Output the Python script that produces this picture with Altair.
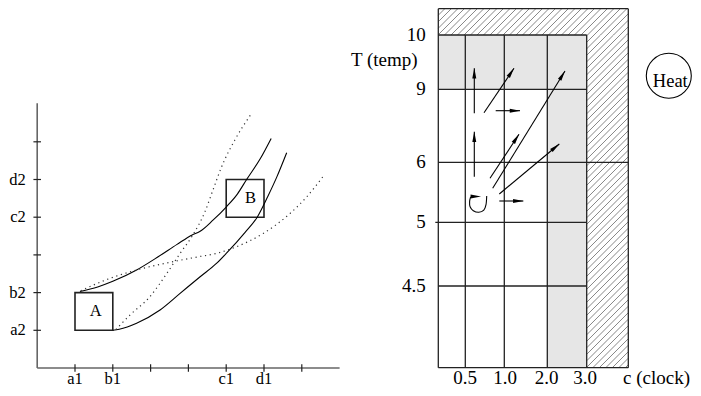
import math
import altair as alt
import pandas as pd

# ---------------- Left diagram (tick units) ----------------
xtick_pos = [1, 2, 3, 4, 5, 6, 7]
ytick_pos = [1, 2, 3, 4, 5, 6]
xlab_pos = [1, 2, 5, 6]
xlab_text = ["a1", "b1", "c1", "d1"]
ylab_pos = [1, 2, 4, 5]
ylab_text = ["a2", "b2", "c2", "d2"]
axis_x_end = 8.0
axis_y_end = 7.02

box_names = ["A", "B"]
box_x1 = [1, 5]
box_x2 = [2, 6]
box_y1 = [1, 4]
box_y2 = [2, 5]
box_lx = [1.55, 5.64]
box_ly = [1.5, 4.52]

upper_x = [1.13, 1.6, 2.0, 2.63, 3.2, 3.7, 4.1, 4.3, 4.65, 5.0, 5.3, 5.54, 5.9, 6.19]
upper_y = [2.03, 2.15, 2.3, 2.6, 2.95, 3.28, 3.53, 3.62, 3.92, 4.27, 4.62, 5.0, 5.55, 6.09]
lower_x = [2.0, 2.17, 2.63, 3.25, 3.78, 4.31, 4.75, 5.02, 5.5, 5.82, 6.1, 6.34, 6.6]
lower_y = [1.0, 1.03, 1.19, 1.54, 1.98, 2.42, 2.78, 3.06, 3.6, 4.0, 4.55, 5.07, 5.71]
dotA_x = [1.15, 1.93, 2.63, 3.5, 4.26, 4.75, 5.23, 5.98, 6.69, 7.13, 7.57]
dotA_y = [2.05, 2.38, 2.6, 2.8, 2.95, 3.04, 3.2, 3.57, 4.1, 4.54, 5.09]
dotB_x = [2.08, 2.46, 2.98, 3.43, 3.78, 4.1, 4.44, 4.66, 4.88, 5.23, 5.67]
dotB_y = [1.02, 1.41, 1.89, 2.51, 3.04, 3.5, 4.15, 4.75, 5.34, 6.05, 6.75]

# ---------------- Right diagram (grid units) ----------------
col_edges = [0, 27, 66, 109, 148.4, 190]      # left, 0.5, 1.0, 2.0, 3.0, outer right
v_45, v_5, v_6, v_9, v_10, v_top = 81.7, 145.4, 205.4, 278.4, 332.7, 359.0
temp_labels = ["10", "9", "6", "5", "4.5"]
temp_pos = [v_10, v_9, v_6, v_5, v_45]
clock_labels = ["0.5", "1.0", "2.0", "3.0"]
clock_pos = [26.7, 66.7, 108.4, 146.7]

arrow_u0 = [36, 45.7, 57.4, 36, 51.7, 54.4, 61, 61]
arrow_v0 = [254.4, 255, 257, 191, 189.4, 179.4, 173.7, 166.7]
arrow_u1 = [36, 75.7, 81.7, 36, 80.7, 126.7, 121, 85]
arrow_v1 = [299.4, 299.4, 257, 236, 233.4, 296.7, 223.7, 166.7]

loop_u = [48.4, 47.7, 45.5, 40.5, 35.0, 31.8, 31.3, 32.3]
loop_v = [171.7, 163.0, 157.5, 155.4, 157.0, 161.0, 166.0, 170.8]
loop_head = (37.5, 171.2, 90.0)

heat_u, heat_v = 230.5, 291.9

FONT = "Liberation Serif"
W, H = 685, 380

lx_dom = [(8 - 37.2) / 37.8, (8 + W - 37.2) / 37.8]
ly_dom = [(368 - (8 + H)) / 37.7, (368 - 8) / 37.7]
rx_dom = [8 - 438.3, 8 + W - 438.3]
ry_dom = [367.7 - (8 + H), 367.7 - 8]


def enc(dom_x, dom_y):
    sx = alt.Scale(domain=dom_x, nice=False, zero=False)
    sy = alt.Scale(domain=dom_y, nice=False, zero=False)
    return sx, sy


LSX, LSY = enc(lx_dom, ly_dom)
RSX, RSY = enc(rx_dom, ry_dom)


def seg_layer(df, sx, sy, color="black", width=1.0, dash=None):
    kw = dict(color=color, strokeWidth=width)
    if dash:
        kw["strokeDash"] = dash
    return alt.Chart(df).mark_rule(**kw).encode(
        x=alt.X("x0:Q", scale=sx, axis=None),
        y=alt.Y("y0:Q", scale=sy, axis=None),
        x2="x1:Q",
        y2="y1:Q",
    )


def text_layer(df, sx, sy, size, align="center", baseline="middle"):
    return alt.Chart(df).mark_text(font=FONT, fontSize=size, align=align,
                                   baseline=baseline, color="black").encode(
        x=alt.X("x:Q", scale=sx, axis=None),
        y=alt.Y("y:Q", scale=sy, axis=None),
        text="t:N",
    )


# ---- left layers
axes_df = pd.DataFrame({"x0": [0, 0], "y0": [0, 0], "x1": [axis_x_end, 0], "y1": [0, axis_y_end]})
tk = 0.1
xt_df = pd.DataFrame({"x0": xtick_pos, "x1": xtick_pos,
                      "y0": [-tk] * len(xtick_pos), "y1": [tk] * len(xtick_pos)})
yt_df = pd.DataFrame({"y0": ytick_pos, "y1": ytick_pos,
                      "x0": [-tk] * len(ytick_pos), "x1": [tk] * len(ytick_pos)})
xl_df = pd.DataFrame({"x": xlab_pos, "y": [-0.424] * 4, "t": xlab_text})
yl_df = pd.DataFrame({"x": [-0.3] * 4, "y": ylab_pos, "t": ylab_text})
box_df = pd.DataFrame({"x0": box_x1, "x1": box_x2, "y0": box_y1, "y1": box_y2})
boxl_df = pd.DataFrame({"x": box_lx, "y": box_ly, "t": box_names})


def curves_df(curves):
    rows = []
    for name, xs, ys in curves:
        for i, (a, b) in enumerate(zip(xs, ys)):
            rows.append({"x": a, "y": b, "c": name, "o": i})
    return pd.DataFrame(rows)


solid_df = curves_df([("upper", upper_x, upper_y), ("lower", lower_x, lower_y)])
dotted_df = curves_df([("dA", dotA_x, dotA_y), ("dB", dotB_x, dotB_y)])

left = alt.layer(
    seg_layer(axes_df, LSX, LSY, color="#666", width=1.6),
    seg_layer(xt_df, LSX, LSY, color="#222", width=1.2),
    seg_layer(yt_df, LSX, LSY, color="#222", width=1.2),
    text_layer(xl_df, LSX, LSY, 16.5, baseline="alphabetic"),
    text_layer(yl_df, LSX, LSY, 16.5, align="right"),
    alt.Chart(box_df).mark_rect(fill=None, stroke="#222", strokeWidth=1.6).encode(
        x=alt.X("x0:Q", scale=LSX, axis=None), x2="x1:Q",
        y=alt.Y("y0:Q", scale=LSY, axis=None), y2="y1:Q"),
    text_layer(boxl_df, LSX, LSY, 16.5),
    alt.Chart(solid_df).mark_line(color="black", strokeWidth=1.1, interpolate="monotone").encode(
        x=alt.X("x:Q", scale=LSX, axis=None), y=alt.Y("y:Q", scale=LSY, axis=None),
        detail="c:N", order="o:Q"),
    alt.Chart(dotted_df).mark_line(color="#333", strokeWidth=1.2, strokeDash=[1.2, 3.6],
                                   interpolate="monotone").encode(
        x=alt.X("x:Q", scale=LSX, axis=None), y=alt.Y("y:Q", scale=LSY, axis=None),
        detail="c:N", order="o:Q"),
)

# ---- right layers
c = col_edges
gray_df = pd.DataFrame({"x0": [c[0], c[3]], "x1": [c[4], c[4]],
                        "y0": [v_9, 0], "y1": [v_10, v_10]})

# hatching (styling): 45-degree lines clipped to the L-shaped hatched band
hatch_rects = [(c[0], c[5], v_10, v_top), (c[4], c[5], 0, v_10)]
hatch_rows = []
step = 6.5
k = -c[5] - 10
while k < v_top + 10:
    for (x0, x1, y0, y1) in hatch_rects:
        ua = max(x0, y0 - k)
        ub = min(x1, y1 - k)
        if ub > ua:
            hatch_rows.append({"x0": ua, "y0": ua + k, "x1": ub, "y1": ub + k})
    k += step
hatch_df = pd.DataFrame(hatch_rows)

grid_rows = []
for u in c[1:5]:
    grid_rows.append({"x0": u, "x1": u, "y0": 0, "y1": v_10})
for u in (c[0], c[5]):
    grid_rows.append({"x0": u, "x1": u, "y0": 0, "y1": v_top})
for v, u0, u1 in [(0, c[0], c[5]), (v_45, c[0], c[4]), (v_5, c[0] - 3, c[4]),
                  (v_6, c[0], c[5]), (v_9, c[0], c[4]), (v_10, c[0], c[4]),
                  (v_top, c[0], c[5])]:
    grid_rows.append({"x0": u0, "x1": u1, "y0": v, "y1": v})
grid_df = pd.DataFrame(grid_rows)

tl_df = pd.DataFrame({"x": [-12.5] * len(temp_labels), "y": temp_pos, "t": temp_labels})
cl_df = pd.DataFrame({"x": clock_pos, "y": [-16.0] * 4, "t": clock_labels})
tname_df = pd.DataFrame({"x": [-87.3], "y": [307.5], "t": ["T (temp)"]})
cname_df = pd.DataFrame({"x": [184.7], "y": [-16.0], "t": ["c (clock)"]})

shaft_df = pd.DataFrame({"x0": arrow_u0, "y0": arrow_v0, "x1": arrow_u1, "y1": arrow_v1})
head_rows = []
for u0, v0, u1, v1 in zip(arrow_u0, arrow_v0, arrow_u1, arrow_v1):
    du, dv = u1 - u0, v1 - v0
    L = math.hypot(du, dv)
    ang = math.degrees(math.atan2(du, dv)) % 360
    head_rows.append({"x": u1 - 5 * du / L, "y": v1 - 5 * dv / L, "a": ang})
head_rows.append({"x": loop_head[0], "y": loop_head[1], "a": loop_head[2]})
head_df = pd.DataFrame(head_rows)
loop_df = pd.DataFrame({"x": loop_u, "y": loop_v, "o": list(range(len(loop_u)))})

heat_df = pd.DataFrame({"x": [heat_u], "y": [heat_v]})
heat_t_df = pd.DataFrame({"x": [heat_u + 1.5], "y": [heat_v - 5.5], "t": ["Heat"]})

right = alt.layer(
    alt.Chart(gray_df).mark_rect(fill="#e6e6e6", stroke=None).encode(
        x=alt.X("x0:Q", scale=RSX, axis=None), x2="x1:Q",
        y=alt.Y("y0:Q", scale=RSY, axis=None), y2="y1:Q"),
    seg_layer(hatch_df, RSX, RSY, color="#555", width=0.7),
    seg_layer(grid_df, RSX, RSY, color="#222", width=1.3),
    text_layer(tl_df, RSX, RSY, 19, align="right"),
    text_layer(cl_df, RSX, RSY, 19, baseline="alphabetic"),
    text_layer(tname_df, RSX, RSY, 19, align="left"),
    text_layer(cname_df, RSX, RSY, 19, align="left", baseline="alphabetic"),
    seg_layer(shaft_df, RSX, RSY, color="black", width=1.1),
    alt.Chart(loop_df).mark_line(color="black", strokeWidth=1.1, interpolate="cardinal").encode(
        x=alt.X("x:Q", scale=RSX, axis=None), y=alt.Y("y:Q", scale=RSY, axis=None), order="o:Q"),
    alt.Chart(head_df).mark_point(shape="M0,-1L0.38,1L-0.38,1Z", filled=True, fill="black",
                                  stroke=None, size=110, opacity=1).encode(
        x=alt.X("x:Q", scale=RSX, axis=None), y=alt.Y("y:Q", scale=RSY, axis=None),
        angle=alt.Angle("a:Q", scale=None)),
    alt.Chart(heat_df).mark_point(shape="circle", filled=False, stroke="black", strokeWidth=1.1,
                                  size=2025, opacity=1).encode(
        x=alt.X("x:Q", scale=RSX, axis=None), y=alt.Y("y:Q", scale=RSY, axis=None)),
    text_layer(heat_t_df, RSX, RSY, 18.5),
)

chart = alt.layer(left, right).resolve_scale(x="independent", y="independent").properties(
    width=W, height=H, padding=0, autosize=alt.AutoSizeParams(type="none")
).configure_view(stroke=None)

chart.save("out.html", embed_options={"renderer": "svg", "actions": False})
